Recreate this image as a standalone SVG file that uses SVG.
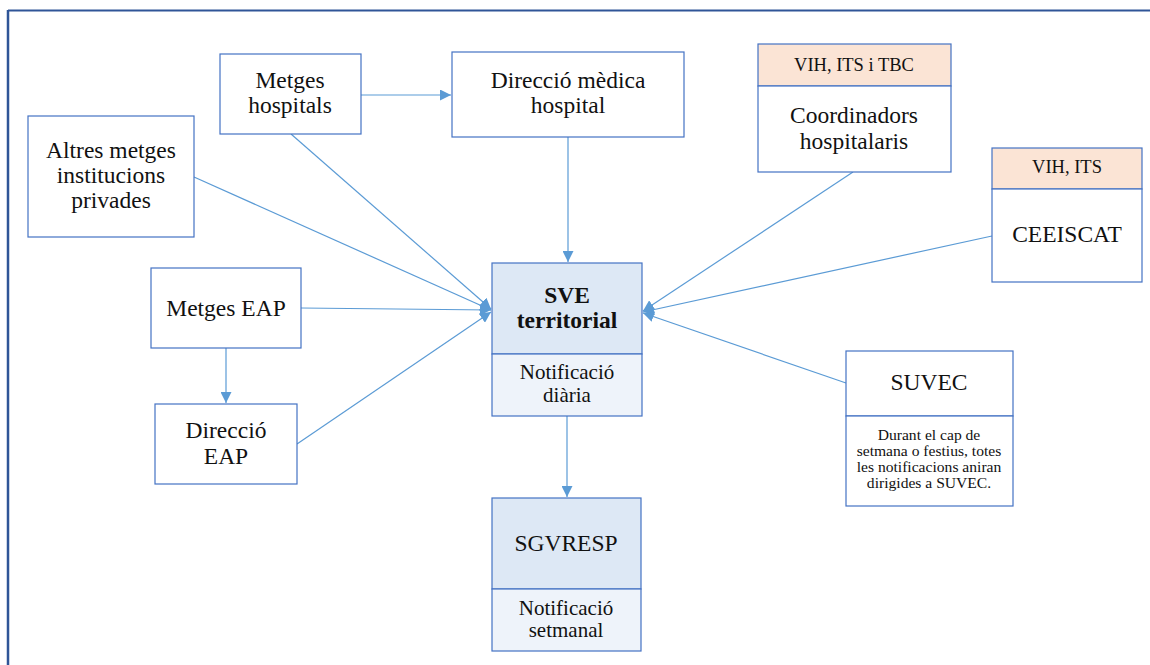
<svg xmlns="http://www.w3.org/2000/svg" width="1150" height="665" viewBox="0 0 1150 665">
  <style>
    .box { fill: #ffffff; stroke: #4472c4; stroke-width: 1.2; }
    .hdr { fill: #fbe4d5; stroke: #4472c4; stroke-width: 1.2; }
    .main { fill: #dde8f5; stroke: #4472c4; stroke-width: 1.2; }
    .sub { fill: #eef3fa; stroke: #4472c4; stroke-width: 1.2; }
    text { font-family: 'Liberation Serif', 'Times New Roman', serif; fill: #111111; text-anchor: middle; }
    .big { font-size: 23.5px; }
    .mid { font-size: 21px; }
    .tag { font-size: 18.5px; }
    .note { font-size: 15.6px; }
    .bold { font-size: 23.5px; font-weight: bold; }
    .link { stroke: #5b9bd5; stroke-width: 1.2; fill: none; marker-end: url(#arrow); }
  </style>
  <defs>
    <marker id="arrow" viewBox="0 0 10 10" refX="10" refY="5" markerWidth="11" markerHeight="11" markerUnits="userSpaceOnUse" orient="auto">
      <path d="M0,0 L10,5 L0,10 Z" fill="#5b9bd5"/>
    </marker>
  </defs>

  <!-- page frame -->
  <g id="frame">
    <line x1="8" y1="10.5" x2="1150" y2="10.5" stroke="#2f5597" stroke-width="2"/>
    <line x1="8" y1="10" x2="8" y2="665" stroke="#2f5597" stroke-width="2.5"/>
  </g>

  <!-- connectors -->
  <g id="connectors">
    <line class="link" x1="361" y1="95" x2="451" y2="95"/>
    <line class="link" x1="568" y1="137" x2="568" y2="262"/>
    <line class="link" x1="291" y1="134" x2="491" y2="309"/>
    <line class="link" x1="194" y1="177" x2="491" y2="310"/>
    <line class="link" x1="301" y1="308" x2="491" y2="310"/>
    <line class="link" x1="297" y1="444" x2="491" y2="312"/>
    <line class="link" x1="226" y1="348" x2="226" y2="403"/>
    <line class="link" x1="567" y1="416" x2="567" y2="497"/>
    <line class="link" x1="853" y1="172" x2="643" y2="311"/>
    <line class="link" x1="992" y1="236" x2="643" y2="312"/>
    <line class="link" x1="846" y1="383" x2="643" y2="313"/>
  </g>

  <g id="metges-hospitals">
    <rect class="box" x="220" y="54" width="141" height="80"/>
    <text class="big" x="290" y="88">Metges</text>
    <text class="big" x="290" y="113">hospitals</text>
  </g>

  <g id="direccio-medica">
    <rect class="box" x="452" y="52" width="232" height="85"/>
    <text class="big" x="568" y="88">Direcció mèdica</text>
    <text class="big" x="568" y="113">hospital</text>
  </g>

  <g id="altres-metges">
    <rect class="box" x="28" y="116" width="166" height="121"/>
    <text class="big" x="111" y="158">Altres metges</text>
    <text class="big" x="111" y="183">institucions</text>
    <text class="big" x="111" y="208">privades</text>
  </g>

  <g id="metges-eap">
    <rect class="box" x="151" y="268" width="150" height="80"/>
    <text class="big" x="226" y="316">Metges EAP</text>
  </g>

  <g id="direccio-eap">
    <rect class="box" x="155" y="404" width="142" height="80"/>
    <text class="big" x="226" y="438">Direcció</text>
    <text class="big" x="226" y="464">EAP</text>
  </g>

  <g id="sve-territorial">
    <rect class="main" x="492" y="263" width="150" height="91"/>
    <rect class="sub" x="492" y="354" width="150" height="62"/>
    <text class="bold" x="567" y="303">SVE</text>
    <text class="bold" x="567" y="328">territorial</text>
    <text class="mid" x="567" y="379">Notificació</text>
    <text class="mid" x="567" y="402">diària</text>
  </g>

  <g id="sgvresp">
    <rect class="main" x="492" y="498" width="149" height="91"/>
    <rect class="sub" x="492" y="589" width="149" height="62"/>
    <text class="big" x="566" y="551">SGVRESP</text>
    <text class="mid" x="566" y="615">Notificació</text>
    <text class="mid" x="566" y="637">setmanal</text>
  </g>

  <g id="coordinadors">
    <rect class="hdr" x="758" y="44" width="193" height="42"/>
    <rect class="box" x="758" y="86" width="193" height="86"/>
    <text class="tag" x="854" y="71">VIH, ITS i TBC</text>
    <text class="big" x="854" y="123">Coordinadors</text>
    <text class="big" x="854" y="149">hospitalaris</text>
  </g>

  <g id="ceeiscat">
    <rect class="hdr" x="992" y="148" width="150" height="41"/>
    <rect class="box" x="992" y="189" width="150" height="93"/>
    <text class="tag" x="1067" y="173">VIH, ITS</text>
    <text class="big" x="1067" y="242">CEEISCAT</text>
  </g>

  <g id="suvec">
    <rect class="box" x="846" y="351" width="167" height="65"/>
    <rect class="box" x="846" y="416" width="167" height="90"/>
    <text class="big" x="929" y="390">SUVEC</text>
    <text class="note" x="929" y="440">Durant el cap de</text>
    <text class="note" x="929" y="456">setmana o festius, totes</text>
    <text class="note" x="929" y="472">les notificacions aniran</text>
    <text class="note" x="929" y="488">dirigides a SUVEC.</text>
  </g>
</svg>
